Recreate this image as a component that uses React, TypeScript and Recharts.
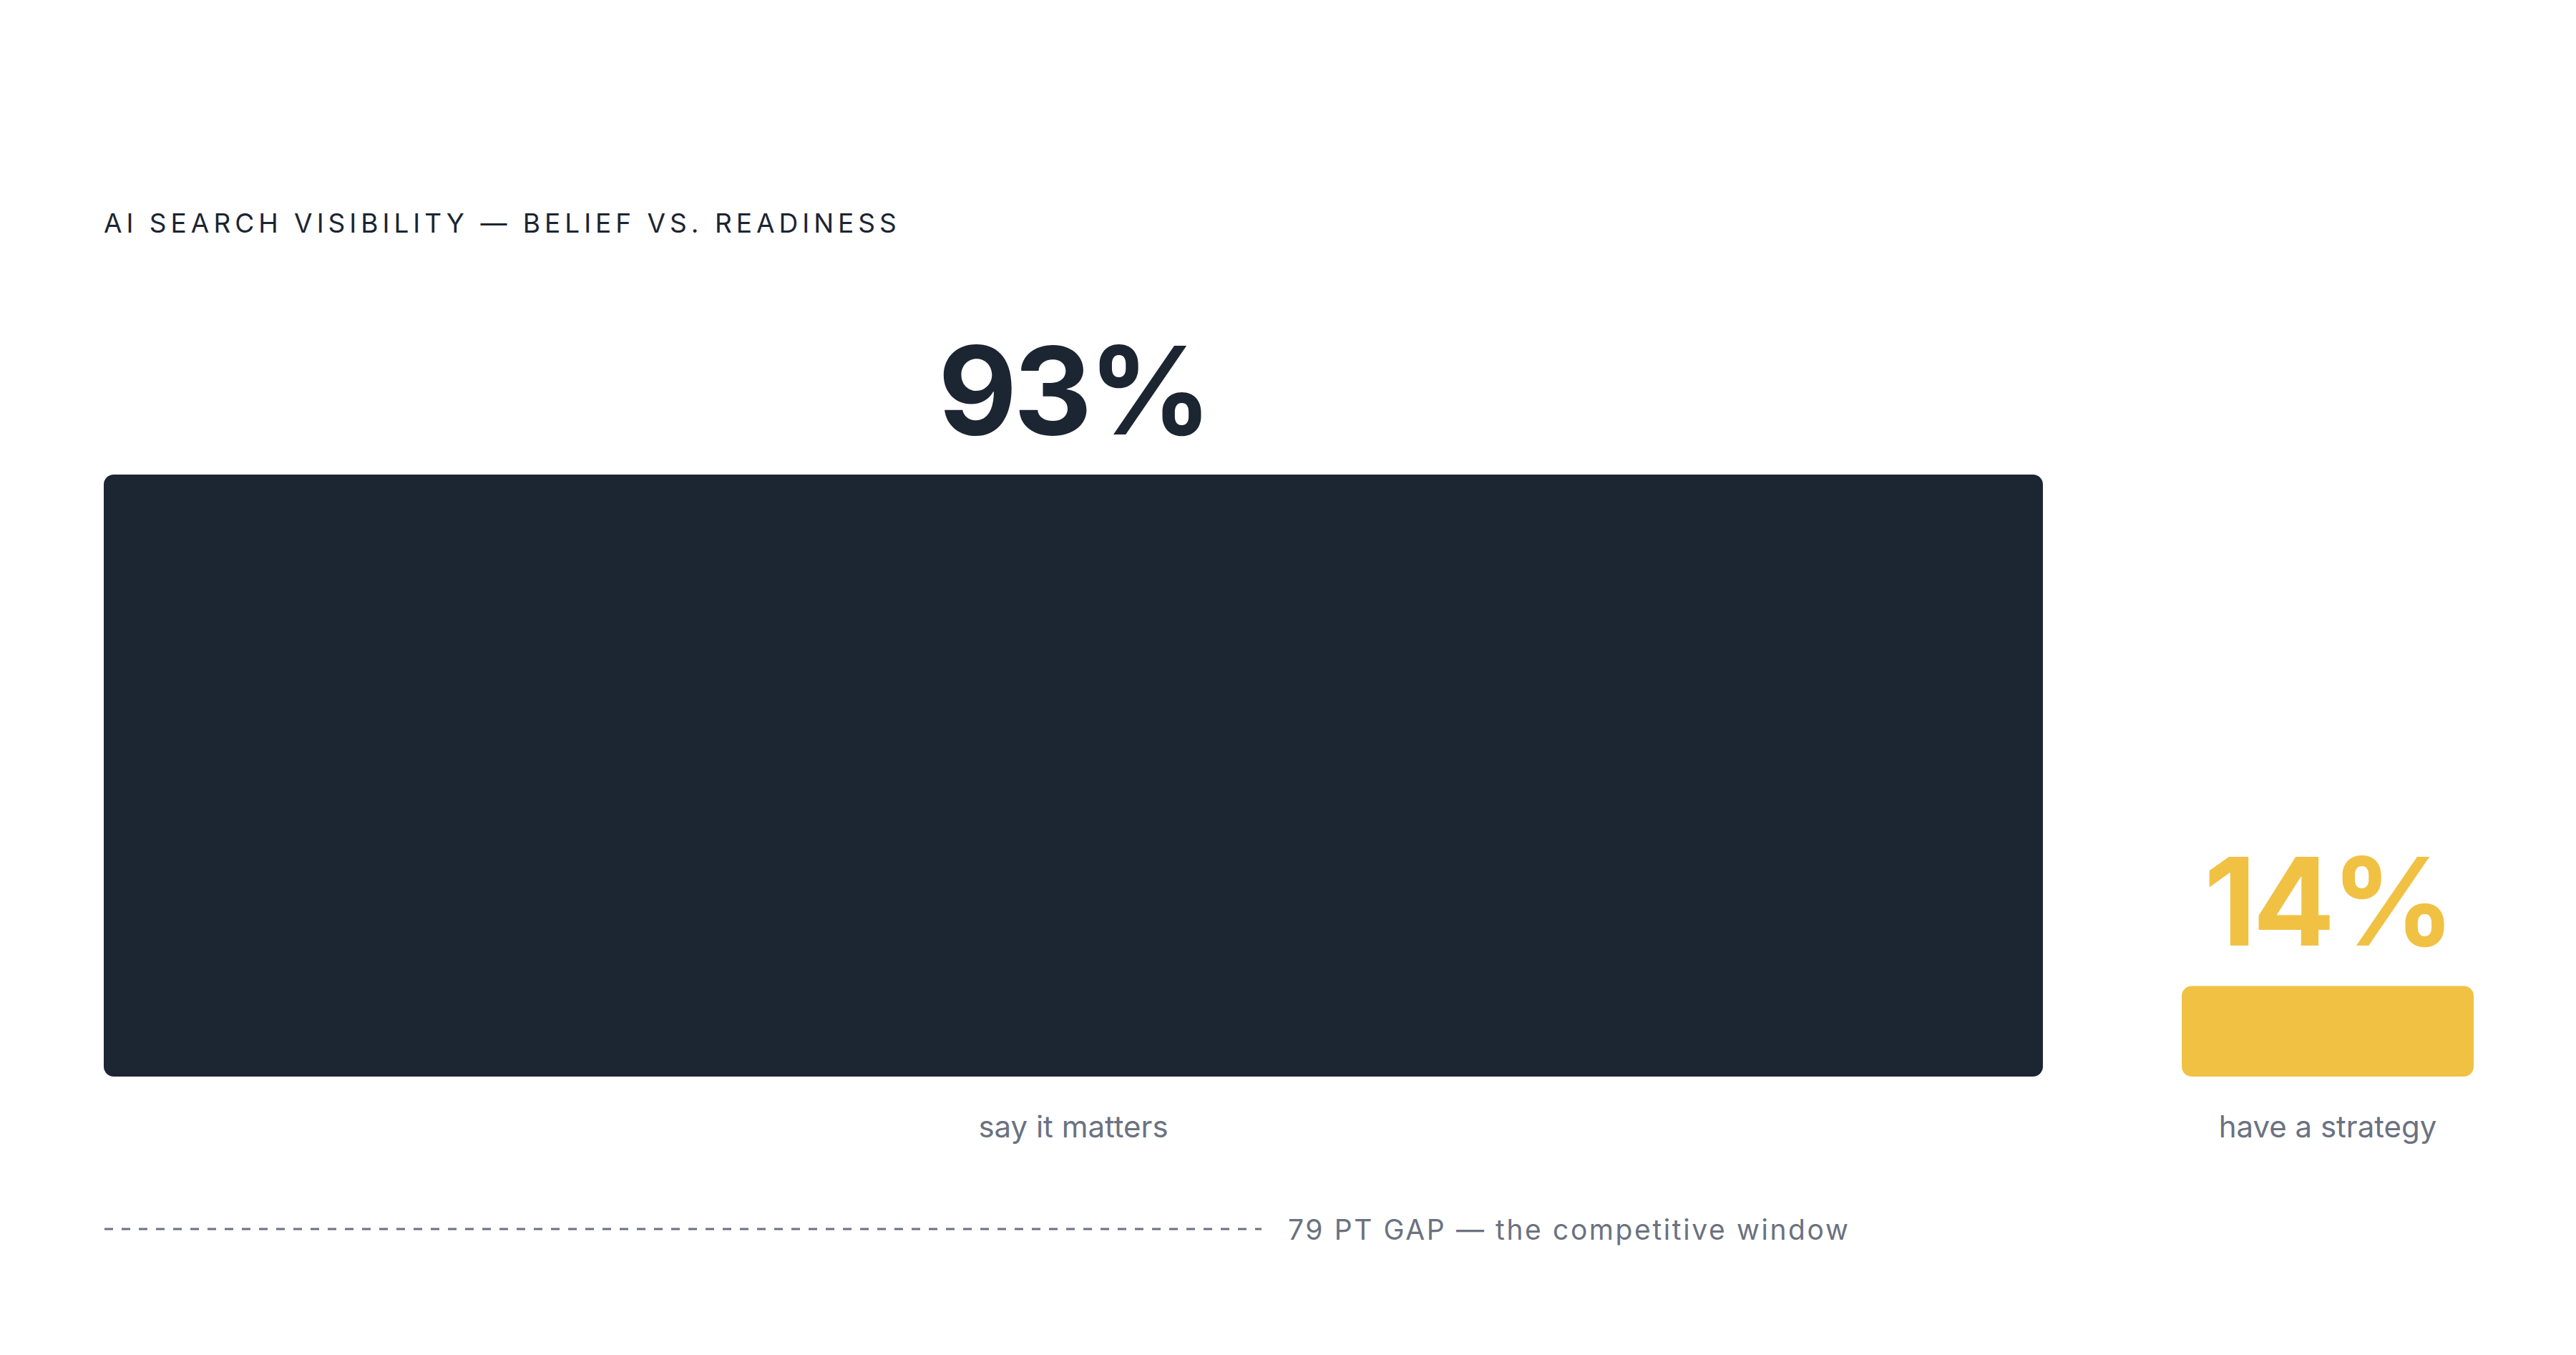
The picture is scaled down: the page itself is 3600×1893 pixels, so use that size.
import React from 'react';
import { ComposedChart, XAxis, YAxis, ReferenceArea, Rectangle } from 'recharts';

const categories = ['say it matters', 'have a strategy'];
const values = [93, 14];
const valueLabels = ['93%', '14%'];
const colors = ['#1c2532', '#f0c143'];

const GAP = 6.66; // space between the two bars, in axis units
const FONT = 'Inter, "DejaVu Sans", sans-serif';

// bars sit side by side, each as wide as it is tall in value units
const starts = values.map((_, i) => values.slice(0, i).reduce((a, b) => a + b, 0) + i * GAP);
const rows = categories.map((name, i) => ({
  name,
  value: values[i],
  label: valueLabels[i],
  x1: starts[i],
  x2: starts[i] + values[i],
  center: starts[i] + values[i] / 2,
  color: colors[i],
}));
const xMax = rows[rows.length - 1].x2;
const gapPts = values[0] - values[1];

export default function App() {
  return (
    <div style={{ position: 'absolute', left: 0, top: 0, width: 3600, height: 1893, background: '#fff', fontFamily: FONT }}>
      <div
        style={{
          position: 'absolute',
          left: 145,
          top: 293,
          fontSize: 37,
          lineHeight: 1,
          letterSpacing: 6,
          fontWeight: 400,
          color: '#1c2532',
          whiteSpace: 'nowrap',
        }}
      >
        AI SEARCH VISIBILITY — BELIEF VS. READINESS
      </div>

      <div style={{ position: 'absolute', left: 0, top: 0 }}>
        <ComposedChart
          width={3600}
          height={1650}
          data={rows}
          margin={{ top: 663, right: 143, bottom: 66, left: 145 }}
        >
          <XAxis
            type="number"
            dataKey="center"
            domain={[0, xMax]}
            allowDataOverflow
            ticks={rows.map((r) => r.center)}
            tickFormatter={(v) => rows.find((r) => Math.abs(r.center - v) < 0.01)?.name ?? ''}
            axisLine={false}
            tickLine={false}
            tickSize={0}
            tickMargin={55}
            height={80}
            interval={0}
            tick={{ fill: '#6b7280', fontSize: 42, fontFamily: FONT }}
          />
          <YAxis type="number" dataKey="value" domain={[0, values[0]]} allowDataOverflow hide width={0} />
          {rows.map((r) => (
            <ReferenceArea
              key={r.name}
              x1={r.x1}
              x2={r.x2}
              y1={0}
              y2={r.value}
              fill={r.color}
              fillOpacity={1}
              stroke="none"
              ifOverflow="visible"
              shape={(p: any) => <Rectangle {...p} radius={14} />}
              label={{
                value: r.label,
                position: 'top',
                offset: 56,
                fill: r.color,
                fontSize: 170,
                fontWeight: 700,
                letterSpacing: -5,
                fontFamily: FONT,
              }}
            />
          ))}
        </ComposedChart>
      </div>

      <svg style={{ position: 'absolute', left: 0, top: 1680 }} width={3600} height={80}>
        <line x1={146} x2={1763} y1={37} y2={37} stroke="#6b7280" strokeWidth={3} strokeDasharray="12 12" />
        <text x={1800} y={52} fill="#6b7280" fontSize={39} letterSpacing={2.6} fontFamily={FONT}>
          {`${gapPts} PT GAP — the competitive window`}
        </text>
      </svg>
    </div>
  );
}
